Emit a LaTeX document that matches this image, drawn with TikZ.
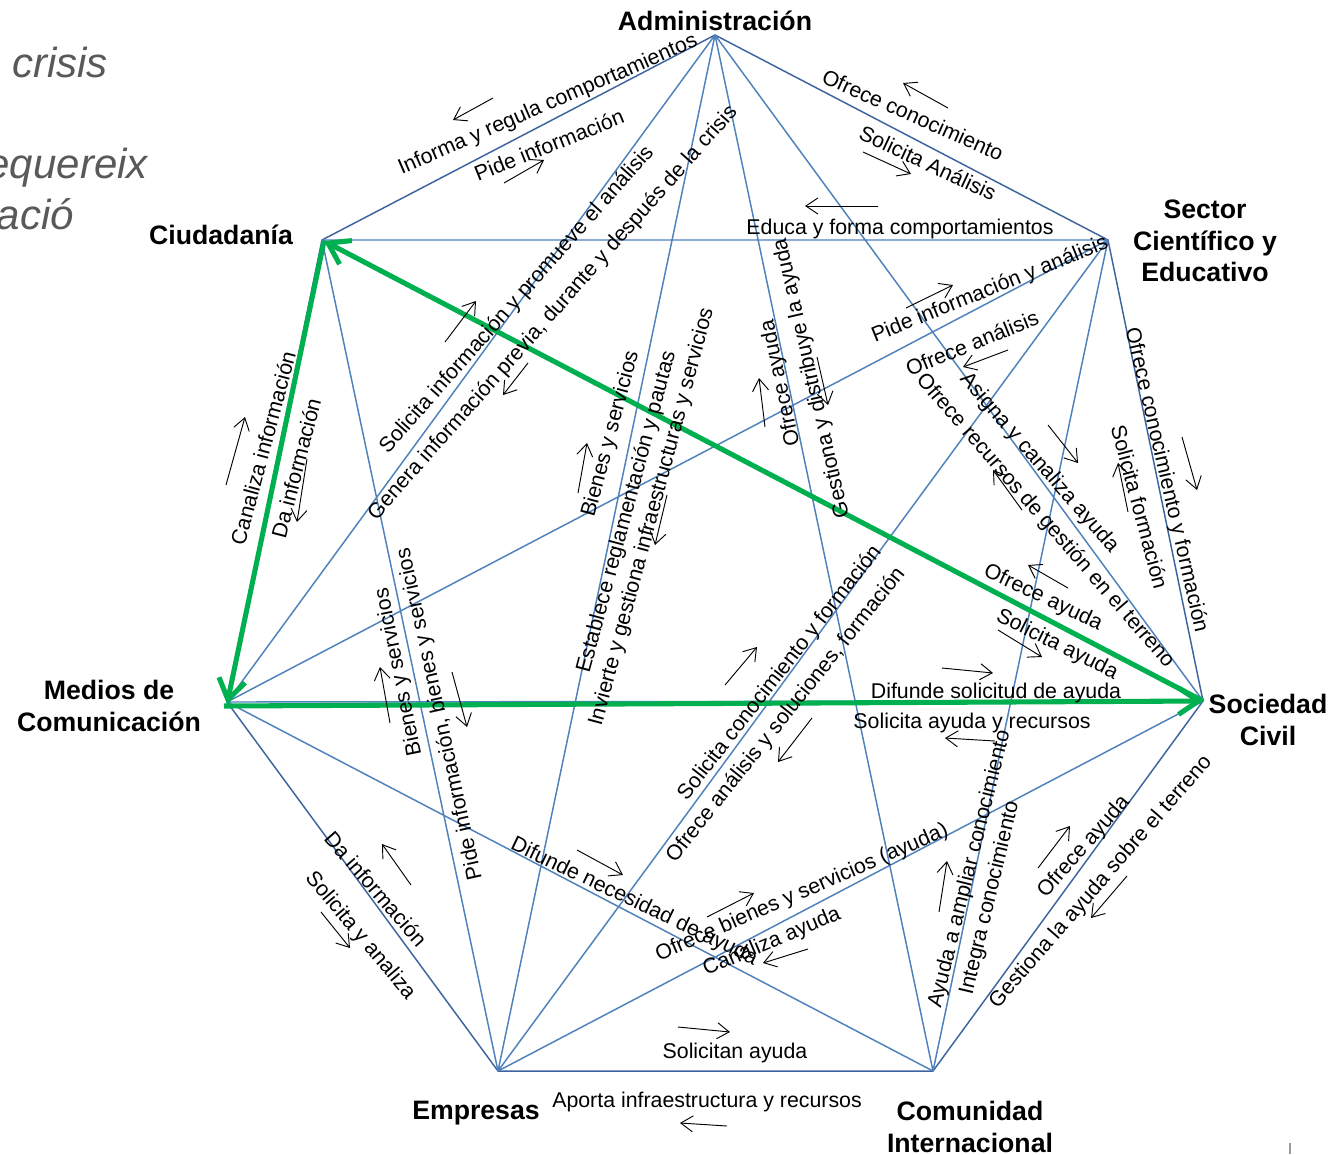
\documentclass[tikz,border=0pt]{standalone}
\usepackage{fontspec}
\setmainfont{Liberation Sans}
\usetikzlibrary{arrows.meta}
\definecolor{outerblue}{HTML}{3E64A0}
\definecolor{innerblue}{HTML}{4F81BD}
\definecolor{grn}{HTML}{00B050}
\definecolor{gtxt}{HTML}{595959}
\begin{document}
\begin{tikzpicture}[x=0.75pt,y=-0.75pt,
  outer/.style={draw=outerblue,line width=1.1pt},
  inner/.style={draw=innerblue,line width=1.1pt},
  big/.style={draw=grn,line width=3.8pt,-{Straight Barb[length=15pt,width=20pt]}},
  sm/.style={draw=black,line width=0.7pt,-{Straight Barb[length=9pt,width=12pt]}},
  lab/.style={font=\fontsize{16}{19}\selectfont,inner sep=0pt},
  vlab/.style={font=\fontsize{20}{23.6}\selectfont\bfseries,align=center,inner sep=0pt},
  gray/.style={font=\fontsize{31.5}{38}\selectfont\itshape,text=gtxt,inner sep=0pt}]
\useasboundingbox (0,0) rectangle (1342,1154);
\clip (0,0) rectangle (1342,1154);
\fill[white] (0,0) rectangle (1342,1154);

% background text (cut off)
\node[gray,anchor=base west] (g1) at (12,77) {crisis};
\node[gray,anchor=base east] (g2) at (148,178) {equereix};
\node[gray,anchor=base east] (g3) at (74,229) {ació};
\draw[gtxt!60,line width=0.8pt] (1290,1143) -- (1290,1154);

% vertices
\coordinate (A) at (715,35);
\coordinate (S) at (1108,240);
\coordinate (SC) at (1203,701);
\coordinate (CI) at (933,1071);
\coordinate (E) at (498,1071);
\coordinate (M) at (227,702);
\coordinate (C) at (322,240);

% blue lines
\draw[outer] (A) -- (S) -- (SC) -- (CI) -- (E) -- (M) -- (C) -- cycle;
\draw[inner] (A) -- (SC) (A) -- (CI) (A) -- (E) (A) -- (M)
  (S) -- (C) (S) -- (M) (S) -- (E) (S) -- (CI)
  (SC) -- (C) (SC) -- (M) (SC) -- (E) (CI) -- (M) (E) -- (C);

% green arrows
\coordinate (Cg) at (324,241);
\coordinate (Mg) at (227,704);
\coordinate (Mg2) at (224,706);
\coordinate (SCg) at (1203,701);
\draw[big] (SCg) -- (Cg);
\draw[big] (Cg) -- (Mg);
\draw[big] (Mg2) -- (SCg);

% vertex labels
\node[vlab] (lA) at (715,21) {Administración};
\node[vlab] (lS) at (1205,241) {Sector\\Científico y\\Educativo};
\node[vlab] (lSC) at (1268,720) {Sociedad\\Civil};
\node[vlab] (lCI) at (970,1127) {Comunidad\\Internacional};
\node[vlab] (lE) at (476,1113) {Empresas};
\node[vlab] (lM) at (109,706) {Medios de\\Comunicación};
\node[vlab] (lC) at (221,235) {Ciudadanía};

% edge labels
\node[lab,rotate=23.5] (t1) at (548,105) {Informa y regula comportamientos};
\node[lab,rotate=22] (t2) at (549,145) {Pide información};
\node[lab,rotate=-24] (t3) at (913,115) {Ofrece conocimiento};
\node[lab,rotate=-25] (t4) at (928,163) {Solicita Análisis};
\node[lab] (t5) at (900,229) {Educa y forma comportamientos};
\node[lab,rotate=22] (t6) at (990,290) {Pide información y análisis};
\node[lab,rotate=22] (t7) at (972,343) {Ofrece análisis};
\node[lab,rotate=-49] (t8) at (1039,463) {Asigna y canaliza ayuda};
\node[lab,rotate=-49] (t9) at (1045,521) {Ofrece recursos de gestión en el terreno};
\node[lab,rotate=-77] (t10) at (1166,480) {Ofrece conocimiento y formación};
\node[lab,rotate=-75] (t11) at (1140,507) {Solicita formación};
\node[lab,rotate=-25] (t12) at (1043,598) {Ofrece ayuda};
\node[lab,rotate=-26.5] (t13) at (1057,645) {Solicita ayuda};
\node[lab] (t14) at (996,693) {Difunde solicitud de ayuda};
\node[lab] (t15) at (972,723) {Solicita ayuda y recursos};
\node[lab,rotate=75] (t16) at (263,448) {Canaliza información};
\node[lab,rotate=75.5] (t17) at (296,468) {Da información};
\node[lab,rotate=48.5] (t18) at (517,300) {Solicita información y promueve el análisis};
\node[lab,rotate=48.5] (t19) at (553,313) {Genera información previa, durante y después de la crisis};
\node[lab,rotate=75] (t20) at (611,434) {Bienes y servicios};
\node[lab,rotate=75] (t21) at (627,512) {Establece reglamentación y pautas};
\node[lab,rotate=75] (t22) at (652,517) {Invierte y gestiona infraestructuras y servicios};
\node[lab,rotate=102] (t23) at (781,383) {Ofrece ayuda};
\node[lab,rotate=102.8] (t24) at (812,378) {Gestiona y distribuye la ayuda};
\node[lab,rotate=76] (t25) at (970,869) {Ayuda a ampliar conocimiento};
\node[lab,rotate=76.5] (t26) at (990,898) {Integra conocimiento};
\node[lab,rotate=49] (t27) at (1084,847) {Ofrece ayuda};
\node[lab,rotate=49] (t28) at (1101,882) {Gestiona la ayuda sobre el terreno};
\node[lab] (t29) at (735,1053) {Solicitan ayuda};
\node[lab] (t30) at (707,1102) {Aporta infraestructura y recursos};
\node[lab,rotate=23.5] (t31) at (802,893) {Ofrece bienes y servicios (ayuda)};
\node[lab,rotate=23] (t32) at (772,942) {Canaliza ayuda};
\node[lab,rotate=-25.5] (t33) at (634,902) {Difunde necesidad de ayuda};
\node[lab,rotate=52] (t34) at (780,673) {Solicita conocimiento y formación};
\node[lab,rotate=51.5] (t35) at (786,715) {Ofrece análisis y soluciones, formación};
\node[lab,rotate=-49] (t36) at (376,889) {Da información};
\node[lab,rotate=-50] (t37) at (360,936) {Solicita y analiza};
\node[lab,rotate=101.5] (t38) at (399,672) {Bienes y servicios};
\node[lab,rotate=102.4] (t39) at (440,714) {Pide información, bienes y servicios};

% small direction arrows
\draw[sm] (493,98) -- (453,120);
\draw[sm] (504,183) -- (544,160);
\draw[sm] (948,108) -- (903,83);
\draw[sm] (863,152) -- (911,174);
\draw[sm] (878,206) -- (805,206);
\draw[sm] (906,308) -- (953,285);
\draw[sm] (1008,350) -- (963,367);
\draw[sm] (1048,425) -- (1078,463);
\draw[sm] (1022,510) -- (993,470);
\draw[sm] (1182,437) -- (1197,490);
\draw[sm] (1128,512) -- (1118,463);
\draw[sm] (1068,588) -- (1028,565);
\draw[sm] (998,630) -- (1042,657);
\draw[sm] (942,668) -- (993,673);
\draw[sm] (995,741) -- (945,738);
\draw[sm] (226,485) -- (245,417);
\draw[sm] (307,459) -- (297,522);
\draw[sm] (445,342) -- (476,301);
\draw[sm] (528,363) -- (503,395);
\draw[sm] (578,493) -- (587,443);
\draw[sm] (667,495) -- (655,545);
\draw[sm] (765,427) -- (759,378);
\draw[sm] (817,357) -- (828,405);
\draw[sm] (939,912) -- (947,861);
\draw[sm] (1038,868) -- (1070,826);
\draw[sm] (1127,876) -- (1091,918);
\draw[sm] (678,1027) -- (730,1032);
\draw[sm] (727,1126) -- (680,1123);
\draw[sm] (707,917) -- (754,893);
\draw[sm] (808,949) -- (763,963);
\draw[sm] (577,850) -- (623,875);
\draw[sm] (725,685) -- (757,647);
\draw[sm] (812,718) -- (778,762);
\draw[sm] (411,885) -- (382,844);
\draw[sm] (321,912) -- (350,948);
\draw[sm] (390,723) -- (380,667);
\draw[sm] (452,672) -- (467,727);
\end{tikzpicture}
\end{document}
